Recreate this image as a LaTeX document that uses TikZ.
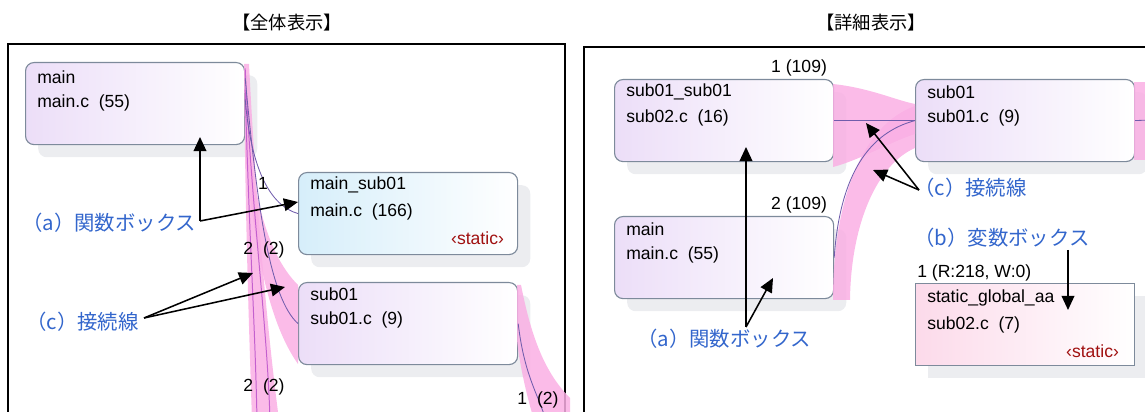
\documentclass[tikz,border=0pt]{standalone}
\usepackage{fontspec}
\setmainfont{Liberation Sans}
\newfontfamily\jp{Noto Sans CJK JP}
\usetikzlibrary{arrows.meta, shadows, positioning}

\definecolor{boxline}{RGB}{125,138,155}
\definecolor{shadowgray}{RGB}{236,237,240}
\definecolor{lav}{RGB}{236,222,248}
\definecolor{cyanish}{RGB}{214,238,250}
\definecolor{pinkish}{RGB}{252,218,234}
\definecolor{band}{RGB}{250,175,228}
\definecolor{conn}{RGB}{112,92,172}
\definecolor{vline}{RGB}{196,96,206}
\definecolor{noteblue}{RGB}{51,102,204}
\definecolor{statred}{RGB}{160,16,16}

\tikzset{
  fbox/.style={draw=boxline, line width=0.8pt, rounded corners=6pt, anchor=north west,
    minimum width=5.475cm, minimum height=2.05cm, inner sep=0pt, right color=white,
    drop shadow={shadow xshift=9pt, shadow yshift=-9pt, fill=shadowgray, opacity=1}},
  vbox/.style={fbox, rounded corners=0pt},
  btxt/.style={anchor=west, inner sep=0pt, font=\fontsize{12.5}{14}\selectfont},
  stat/.style={anchor=east, inner sep=0pt, text=statred, font=\fontsize{12.5}{14}\selectfont},
  cnt/.style={inner sep=0pt, font=\fontsize{12.5}{14}\selectfont},
  note/.style={inner sep=0pt, text=noteblue, font=\jp\fontsize{14.5}{16}\selectfont},
  title/.style={inner sep=0pt, font=\jp\fontsize{13}{15}\selectfont},
  arr/.style={line width=1.1pt, -{Triangle[length=10pt,width=9pt]}},
  conline/.style={draw=conn, line width=0.6pt},
  colline/.style={draw=vline, line width=0.7pt},
  frame/.style={line width=1.6pt}
}

\begin{document}
\begin{tikzpicture}[x=0.025cm, y=-0.025cm]
  \useasboundingbox (0,0) rectangle (1145,412);
  \clip (0,0) rectangle (1145,412);

  % titles
  \node[title] (t-all) at (287,23) {【全体表示】};
  \node[title] (t-det) at (871,23) {【詳細表示】};

  % frames
  \draw[frame] (8,420) -- (8,44) -- (565,44) -- (565,420);
  \draw[frame] (584,420) -- (584,47) -- (1150,47);

  % left panel: function boxes
  \node[fbox, left color=lav] (L-main) at (25,62) {};
  \node[fbox, left color=cyanish] (L-msub) at (298,172) {};
  \node[fbox, left color=lav] (L-sub) at (298,282) {};

  \node[btxt] at ([shift={(12,15)}]L-main.north west) {main};
  \node[btxt] at ([shift={(12,41)}]L-main.north west) {main.c\ \ (55)};
  \node[btxt] at ([shift={(12,13)}]L-msub.north west) {main\_sub01};
  \node[btxt] at ([shift={(12,40)}]L-msub.north west) {main.c\ \ (166)};
  \node[stat] at ([shift={(-14,-17)}]L-msub.south east) {‹static›};
  \node[btxt] at ([shift={(12,12)}]L-sub.north west) {sub01};
  \node[btxt] at ([shift={(12,38)}]L-sub.north west) {sub01.c\ \ (9)};

  % left panel: bands
  \fill[band, opacity=0.85] (244,64) -- (249,64) .. controls (256,200) and (266,320) .. (279,420)
    -- (252,420) .. controls (248,300) and (245,200) .. (244,64) -- cycle;
  \fill[band, opacity=0.85] (246,120) .. controls (254,200) and (268,255) .. (298,285)
    -- (298,364) .. controls (274,330) and (256,270) .. (245,150) -- cycle;
  \fill[band, opacity=0.85] (517,285) -- (521,285) .. controls (530,330) and (542,370) .. (570,398)
    -- (570,420) -- (534,420) .. controls (525,390) and (519,360) .. (517,340) -- cycle;

  \coordinate (L-out1) at (257,420);
  \coordinate (L-out2) at (270,420);
  \coordinate (L-out3) at (546,420);
  \draw[colline] ([yshift=10]L-main.east) .. controls +(4,150) and +(-2,-100) .. (L-out1);
  \draw[colline] ([yshift=25]L-main.east) .. controls +(6,140) and +(-3,-100) .. (L-out2);
  \draw[conline] ([yshift=3]L-main.east) .. controls +(6,70) and +(-28,-8) .. (L-msub.west);
  \draw[conline] ([yshift=18]L-main.east) .. controls +(12,130) and +(-28,-25) .. (L-sub.west);
  \draw[conline] (L-sub.east) .. controls +(6,50) and +(-10,-30) .. (L-out3);

  \node[cnt] (L-c1) at (263,183) {1};
  \node[cnt] (L-c2) at (264,250) {2\ \ (2)};
  \node[cnt] (L-c3) at (264,387) {2\ \ (2)};
  \node[cnt] (L-c4) at (538,400) {1\ \ (2)};

  % left panel: notes
  \node[note, anchor=west] (L-na) at (22,223) {（a）関数ボックス};
  \node[note, anchor=west] (L-nc) at (26,322) {（c）接続線};
  \coordinate (L-ha) at (200,221);
  \coordinate (L-ta1) at (200,137);
  \coordinate (L-ta2) at (298,202);
  \coordinate (L-hc) at (144,318);
  \coordinate (L-tc1) at (253,273);
  \coordinate (L-tc2) at (285,287);
  \draw[arr] (L-ha) -- (L-ta1);
  \draw[arr] (L-ha) -- (L-ta2);
  \draw[arr] (L-hc) -- (L-tc1);
  \draw[arr] (L-hc) -- (L-tc2);

  % right panel: boxes
  \node[fbox, left color=lav] (R-ss) at (614,79) {};
  \node[fbox, left color=lav] (R-main) at (614,216) {};
  \node[fbox, left color=lav] (R-sub) at (915,79) {};
  \node[vbox, left color=pinkish] (R-var) at (915,283) {};

  \node[btxt] at ([shift={(12,13)}]R-ss.north west) {sub01\_sub01};
  \node[btxt] at ([shift={(12,39)}]R-ss.north west) {sub02.c\ \ (16)};
  \node[btxt] at ([shift={(12,13)}]R-main.north west) {main};
  \node[btxt] at ([shift={(12,39)}]R-main.north west) {main.c\ \ (55)};
  \node[btxt] at ([shift={(12,13)}]R-sub.north west) {sub01};
  \node[btxt] at ([shift={(12,39)}]R-sub.north west) {sub01.c\ \ (9)};
  \node[btxt] at ([shift={(12,15)}]R-var.north west) {static\_global\_aa};
  \node[btxt] at ([shift={(12,42)}]R-var.north west) {sub02.c\ \ (7)};
  \node[stat] at ([shift={(-16,-15)}]R-var.south east) {‹static›};

  \node[cnt, anchor=east] (R-c1) at ([shift={(-7,-11)}]R-ss.north east) {1 (109)};
  \node[cnt, anchor=east] (R-c2) at ([shift={(-7,-11)}]R-main.north east) {2 (109)};
  \node[cnt, anchor=west] (R-c3) at ([shift={(2,-10)}]R-var.north west) {1 (R:218, W:0)};

  % right panel: bands
  \fill[band, opacity=0.85] (833,84) .. controls (870,88) and (895,100) .. (915,104)
    -- (915,134) .. controls (890,142) and (860,160) .. (833,167) -- cycle;
  \fill[band, opacity=0.85] (833,300) .. controls (833,200) and (862,125) .. (915,106)
    -- (915,148) .. controls (878,164) and (851,222) .. (850,300) -- cycle;
  \fill[band, opacity=0.85] (1134,82) rectangle (1150,160);

  \coordinate (R-out) at (1150,120);
  \draw[conline] (R-ss.east) -- (R-sub.west);
  \draw[conline] (R-main.east) .. controls +(6,-85) and +(-45,12) .. (R-sub.west);
  \draw[conline] (R-sub.east) -- (R-out);

  % right panel: notes
  \node[note, anchor=west] (R-na) at (637,339) {（a）関数ボックス};
  \node[note, anchor=west] (R-nc) at (914,188) {（c）接続線};
  \node[note, anchor=west] (R-nb) at (914,238) {（b）変数ボックス};
  \coordinate (R-ha) at (746,327);
  \coordinate (R-ta1) at (746,147);
  \coordinate (R-ta2) at (773,278);
  \coordinate (R-hc) at (919,190);
  \coordinate (R-tc1) at (866,123);
  \coordinate (R-tc2) at (873,170);
  \coordinate (R-hb) at (1068,250);
  \coordinate (R-tb) at (1068,310);
  \draw[arr] (R-ha) -- (R-ta1);
  \draw[arr] (R-ha) -- (R-ta2);
  \draw[arr] (R-hc) -- (R-tc1);
  \draw[arr] (R-hc) -- (R-tc2);
  \draw[arr] (R-hb) -- (R-tb);
\end{tikzpicture}
\end{document}
